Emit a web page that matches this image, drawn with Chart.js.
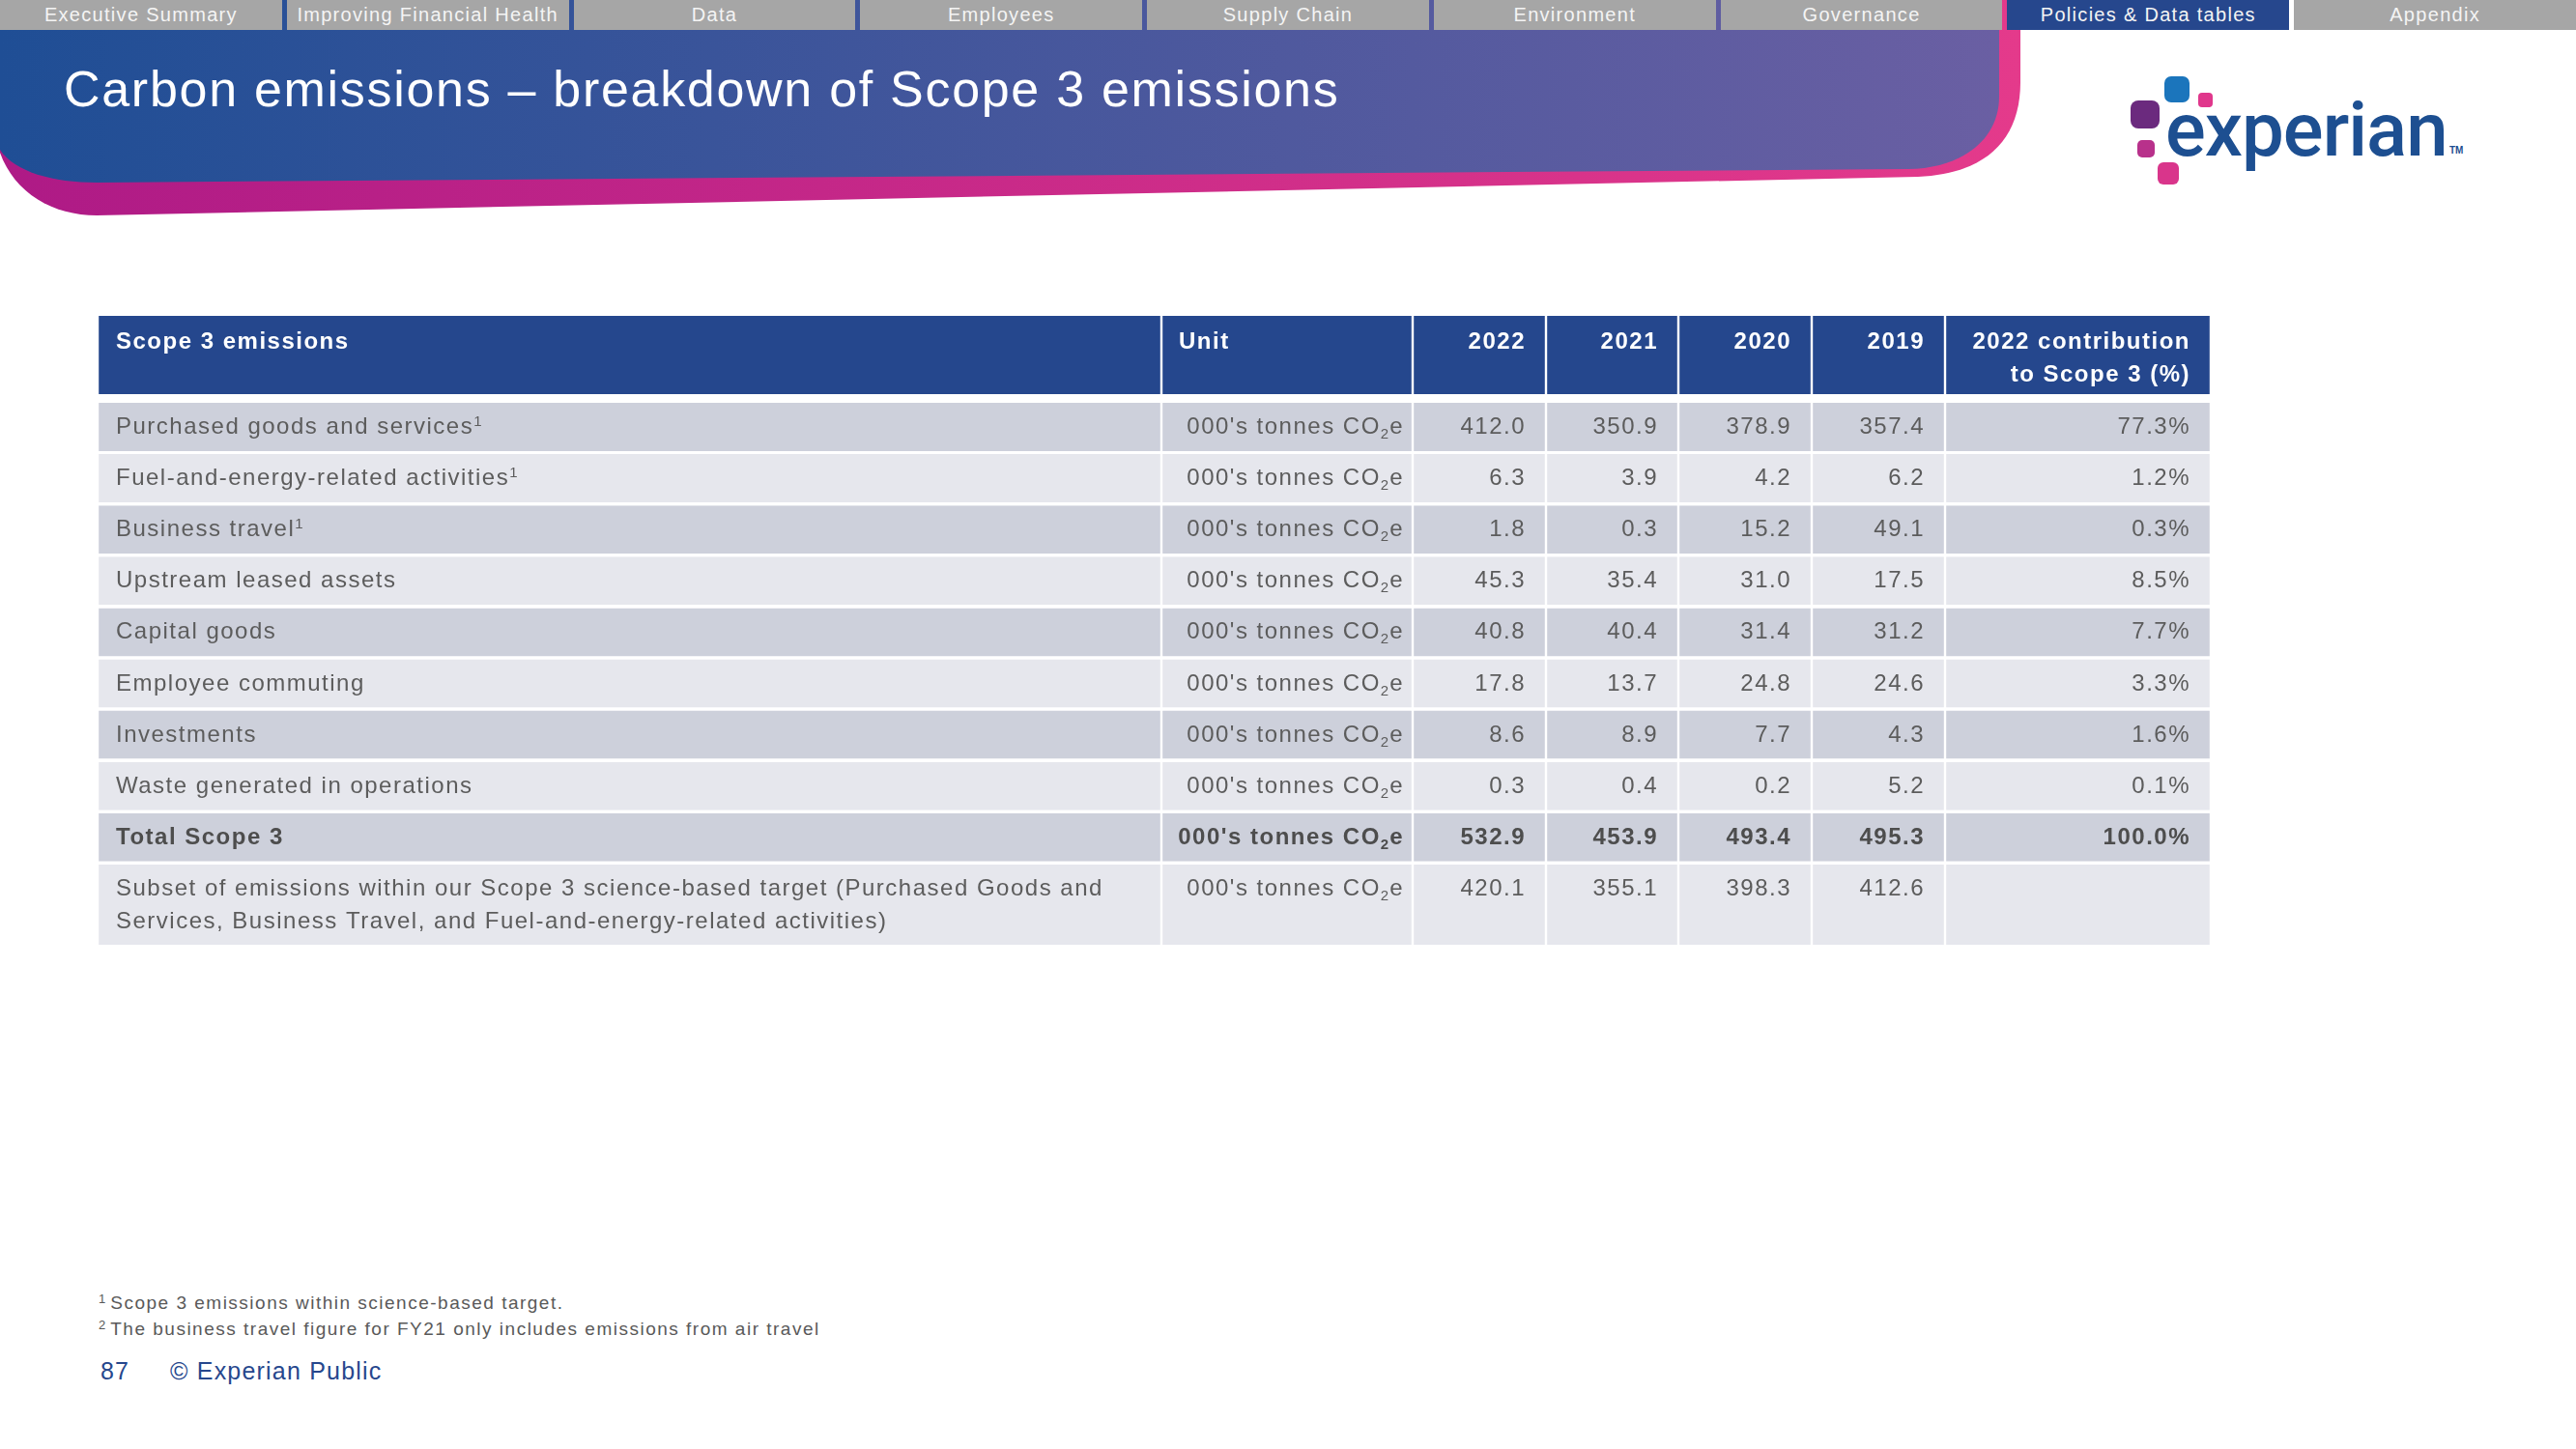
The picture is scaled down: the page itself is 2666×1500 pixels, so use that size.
<!DOCTYPE html>
<html>
<head>
<meta charset="utf-8">
<script src="https://cdn.jsdelivr.net/npm/chart.js@4/dist/chart.umd.min.js"></script>
<style>
  html, body { margin: 0; padding: 0; background: #fff; }
  body { width: 2666px; height: 1500px; position: relative; overflow: hidden; font-family: "Liberation Sans", Arial, sans-serif; }
  #band { position: absolute; left: 0; top: 0; }
  .tabs { position: absolute; left: 0; top: 0; width: 2666px; height: 31px; display: flex; gap: 5px; }
  .tab { flex: 1; background: #a6a6a6; color: #f4f4f4; font-size: 20px; letter-spacing: 1.3px; display: flex; align-items: center; justify-content: center; white-space: nowrap; }
  .tab.active { background: #26478d; }
  h1 { position: absolute; left: 66px; top: 66px; margin: 0; font-weight: normal; font-size: 52px; line-height: 52px; letter-spacing: 1.7px; color: #fff; white-space: nowrap; }
  .dot { position: absolute; display: block; }
  .word { position: absolute; left: 2241px; top: 96px; font-family: Roboto, sans-serif; font-weight: 500; font-size: 78px; line-height: 78px; letter-spacing: -1px; color: #1d4f91; }
  .tm { position: absolute; left: 2535px; top: 151px; font-size: 10px; line-height: 10px; font-weight: bold; color: #1d4f91; }
  #table { position: absolute; left: 101px; top: 327px; }
  .fn { position: absolute; left: 102px; font-size: 19px; line-height: 19px; letter-spacing: 1.5px; color: #595959; white-space: nowrap; }
  .fn sup { font-size: 13px; vertical-align: top; position: relative; top: -4px; letter-spacing: 0; margin-right: 5px; }
  .foot { position: absolute; top: 1407px; font-size: 25px; line-height: 25px; letter-spacing: 1.2px; color: #26478d; white-space: nowrap; }
</style>
</head>
<body>

<svg id="band" width="2666" height="240">
  <defs>
    <linearGradient id="pinkGrad" x1="0" x2="2091" y1="0" y2="0" gradientUnits="userSpaceOnUse">
      <stop offset="0" stop-color="#ae1a86"/>
      <stop offset="1" stop-color="#e43a8b"/>
    </linearGradient>
    <linearGradient id="blueGrad" x1="0" x2="2069" y1="0" y2="0" gradientUnits="userSpaceOnUse">
      <stop offset="0" stop-color="#1f4e95"/>
      <stop offset="1" stop-color="#6a5fa3"/>
    </linearGradient>
  </defs>
  <path d="M0,0 H2091 V85 C2091,145 2055,180 1985,183 L100,223 C55,223 15,200 0,158 Z" fill="url(#pinkGrad)"/>
  <path d="M0,0 H2069 V100 C2069,145 2030,174 1975,175 L100,189 C55,189 15,178 0,155 Z" fill="url(#blueGrad)"/>
</svg>

<div class="tabs">
  <div class="tab">Executive Summary</div>
  <div class="tab">Improving Financial Health</div>
  <div class="tab">Data</div>
  <div class="tab">Employees</div>
  <div class="tab">Supply Chain</div>
  <div class="tab">Environment</div>
  <div class="tab">Governance</div>
  <div class="tab active">Policies &amp; Data tables</div>
  <div class="tab">Appendix</div>
</div>

<h1>Carbon emissions – breakdown of Scope 3 emissions</h1>

<span class="dot" style="left:2240px;top:79px;width:26px;height:27px;background:#1b75bc;border-radius:7px"></span>
<span class="dot" style="left:2275px;top:96px;width:15px;height:15px;background:#e0378c;border-radius:4px"></span>
<span class="dot" style="left:2205px;top:104px;width:30px;height:29px;background:#6b2a7e;border-radius:8px"></span>
<span class="dot" style="left:2212px;top:145px;width:18px;height:18px;background:#b8318b;border-radius:5px"></span>
<span class="dot" style="left:2233px;top:168px;width:22px;height:23px;background:#d9358b;border-radius:6px"></span>
<span class="word">experian</span>
<span class="tm">TM</span>

<canvas id="table" width="2187" height="651"></canvas>

<div class="fn" style="top:1339px"><sup>1</sup>Scope 3 emissions within science-based target.</div>
<div class="fn" style="top:1366px"><sup>2</sup>The business travel figure for FY21 only includes emissions from air travel</div>
<div class="foot" style="left:104px">87</div>
<div class="foot" style="left:176px">© Experian Public</div>

<script>
// ── Data ──────────────────────────────────────────────────────────────────────

const categories = [
  'Purchased goods and services',
  'Fuel-and-energy-related activities',
  'Business travel',
  'Upstream leased assets',
  'Capital goods',
  'Employee commuting',
  'Investments',
  'Waste generated in operations',
  'Total Scope 3',
  'Subset of emissions within our Scope 3 science-based target (Purchased Goods and Services, Business Travel, and Fuel-and-energy-related activities)',
];
const notes      = ['1', '1', '1', '', '', '', '', '', '', ''];
const unitParts  = ["000's tonnes CO", '2', 'e'];
const years      = ['2022', '2021', '2020', '2019'];
const headFirst  = 'Scope 3 emissions';
const headUnit   = 'Unit';
const headShare  = ['2022 contribution', 'to Scope 3 (%)'];

const values2022 = [412.0, 6.3, 1.8, 45.3, 40.8, 17.8, 8.6, 0.3, 532.9, 420.1];
const values2021 = [350.9, 3.9, 0.3, 35.4, 40.4, 13.7, 8.9, 0.4, 453.9, 355.1];
const values2020 = [378.9, 4.2, 15.2, 31.0, 31.4, 24.8, 7.7, 0.2, 493.4, 398.3];
const values2019 = [357.4, 6.2, 49.1, 17.5, 31.2, 24.6, 4.3, 5.2, 495.3, 412.6];
const share2022  = [77.3, 1.2, 0.3, 8.5, 7.7, 3.3, 1.6, 0.1, 100.0, null];

const TOTAL_ROW  = 8;
const SUBSET_ROW = 9;

// ── Layout ────────────────────────────────────────────────────────────────────

const COL_EDGES  = [0, 1101, 1361, 1499, 1636, 1774, 1912, 2187];
const TABLE_H    = 651;
const HEAD_H     = 81;
const ROW_TOP    = 90;
const ROW_PITCH  = 53.1;
const ROW_H      = 50;
const HEAD_BASE  = 34;
const BODY_BASE  = 32;
const LINE_GAP   = 34;

const HEAD_BG  = '#25478d';
const DARK_BG  = '#cdd0db';
const LIGHT_BG = '#e6e7ed';
const TEXT     = '#5c5c5c';
const TEXT_B   = '#4d4d4d';

// ── Cells ─────────────────────────────────────────────────────────────────────

const yearValues = [values2022, values2021, values2020, values2019];

function headerCells() {
  const base = HEAD_BASE;
  return [
    { lines: [headFirst], base, bold: true, color: '#fff', align: 'left', pad: 19 },
    { lines: [headUnit],  base, bold: true, color: '#fff', align: 'left', pad: 18 },
    ...years.map((y) => ({ lines: [y], base, bold: true, color: '#fff', align: 'right', pad: 21 })),
    { lines: headShare, base, bold: true, color: '#fff', align: 'right', pad: 21 },
  ];
}

function bodyCells(i) {
  const bold  = i === TOTAL_ROW;
  const color = bold ? TEXT_B : TEXT;
  const base  = BODY_BASE;
  const share = share2022[i];
  return [
    { lines: [categories[i]], sup: notes[i], wrap: i === SUBSET_ROW, base, bold, color, align: 'left', pad: 19 },
    { unit: true, base, bold, color, align: 'right', pad: 9 },
    ...yearValues.map((vals) => ({ lines: [vals[i].toFixed(1)], base, bold, color, align: 'right', pad: 21 })),
    { lines: [share == null ? '' : share.toFixed(1) + '%'], base, bold, color, align: 'right', pad: 21 },
  ];
}

const rows = [{ top: 0, height: HEAD_H, color: HEAD_BG, cells: headerCells() }];
categories.forEach((_, i) => {
  const top = ROW_TOP + i * ROW_PITCH;
  rows.push({
    top,
    height: i === SUBSET_ROW ? TABLE_H - top : ROW_H,
    color: i % 2 ? LIGHT_BG : DARK_BG,
    cells: bodyCells(i),
  });
});

// ── Text drawing ──────────────────────────────────────────────────────────────

function font(size, bold) {
  return `${bold ? 'bold ' : ''}${size}px "Liberation Sans", Arial, sans-serif`;
}

function wrapText(ctx, text, maxW) {
  const words = text.split(' ');
  const out = [];
  let line = '';
  words.forEach((w) => {
    const test = line ? line + ' ' + w : w;
    if (line && ctx.measureText(test).width > maxW) { out.push(line); line = w; }
    else line = test;
  });
  if (line) out.push(line);
  return out;
}

function drawCell(ctx, cell, left, right, top) {
  ctx.save();
  ctx.fillStyle = cell.color;
  ctx.textBaseline = 'alphabetic';
  ctx.letterSpacing = '1.5px';
  ctx.font = font(24, cell.bold);

  if (cell.unit) {
    const yb = top + cell.base;
    const w0 = ctx.measureText(unitParts[0]).width;
    const w2 = ctx.measureText(unitParts[2]).width;
    ctx.font = font(15, cell.bold);
    ctx.letterSpacing = '0px';
    const w1 = ctx.measureText(unitParts[1]).width + 1;
    let x = right - cell.pad - (w0 + w1 + w2);
    ctx.textAlign = 'left';
    ctx.font = font(24, cell.bold);
    ctx.letterSpacing = '1.5px';
    ctx.fillText(unitParts[0], x, yb);
    x += w0;
    ctx.font = font(15, cell.bold);
    ctx.letterSpacing = '0px';
    ctx.fillText(unitParts[1], x, yb + 5);
    x += w1;
    ctx.font = font(24, cell.bold);
    ctx.letterSpacing = '1.5px';
    ctx.fillText(unitParts[2], x, yb);
    ctx.restore();
    return;
  }

  let lines = cell.lines;
  if (cell.wrap) lines = wrapText(ctx, lines[0], right - left - 2 * cell.pad);

  lines.forEach((line, k) => {
    const yb = top + cell.base + k * LINE_GAP;
    if (cell.align === 'right') {
      ctx.textAlign = 'right';
      ctx.fillText(line, right - cell.pad, yb);
    } else {
      ctx.textAlign = 'left';
      ctx.fillText(line, left + cell.pad, yb);
      if (cell.sup && k === lines.length - 1) {
        const w = ctx.measureText(line).width;
        ctx.font = font(15, false);
        ctx.letterSpacing = '0px';
        ctx.fillText(cell.sup, left + cell.pad + w, yb - 8);
        ctx.font = font(24, cell.bold);
        ctx.letterSpacing = '1.5px';
      }
    }
  });
  ctx.restore();
}

const cellText = {
  id: 'cellText',
  afterDatasetsDraw(chart) {
    const ctx = chart.ctx;
    chart.data.datasets.forEach((ds, r) => {
      chart.getDatasetMeta(r).data.forEach((el, c) => {
        const { x, base, y, height } = el.getProps(['x', 'base', 'y', 'height'], true);
        drawCell(ctx, ds.cells[c], Math.min(x, base), Math.max(x, base), y - height / 2);
      });
    });
  },
};

// ── Chart ─────────────────────────────────────────────────────────────────────

new Chart(document.getElementById('table'), {
  type: 'bar',
  data: {
    datasets: rows.map((row) => ({
      data: COL_EDGES.slice(0, -1).map((x0, c) => ({ x: [x0, COL_EDGES[c + 1]], y: row.top + row.height / 2 })),
      cells: row.cells,
      barThickness: row.height,
      grouped: false,
      backgroundColor: row.color,
      borderColor: '#ffffff',
      borderWidth: { left: 1.2, right: 1.2, top: 0, bottom: 0 },
      borderSkipped: false,
      inflateAmount: 0,
    })),
  },
  options: {
    indexAxis: 'y',
    responsive: false,
    animation: false,
    events: [],
    layout: { padding: 0 },
    scales: {
      x: { type: 'linear', display: false, offset: false, min: 0, max: COL_EDGES[COL_EDGES.length - 1], bounds: 'data' },
      y: { type: 'linear', display: false, offset: false, min: 0, max: TABLE_H, reverse: true, bounds: 'data' },
    },
    plugins: { legend: { display: false }, tooltip: { enabled: false } },
  },
  plugins: [cellText],
});
</script>
</body>
</html>
